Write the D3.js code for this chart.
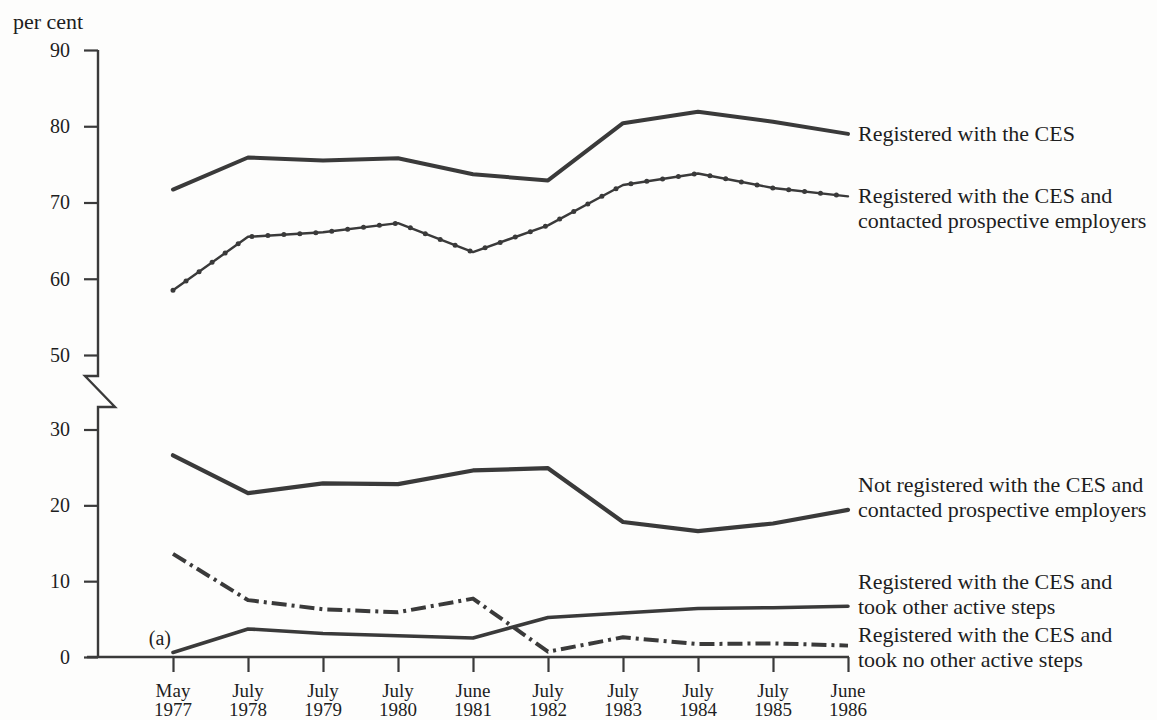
<!DOCTYPE html>
<html>
<head>
<meta charset="utf-8">
<script src="https://cdn.jsdelivr.net/npm/d3@7"></script>
<style>
  html, body { margin: 0; padding: 0; background: #fdfdfc; }
  svg { display: block; font-family: "Liberation Serif", "DejaVu Serif", serif; }
  text { fill: #1e1e1e; }
</style>
</head>
<body>
<div id="chart"></div>
<script>
(() => {
  "use strict";

  // survey dates (x categories)
  const months = ["May","July","July","July","June","July","July","July","July","June"];
  const years  = ["1977","1978","1979","1980","1981","1982","1983","1984","1985","1986"];

  // per cent of unemployed
  const registered       = [71.7, 75.9, 75.5, 75.8, 73.7, 72.9, 80.4, 81.9, 80.6, 79.0];
  const regContacted     = [58.5, 65.5, 66.1, 67.3, 63.5, 67.0, 72.3, 73.8, 71.9, 70.8];
  const notRegContacted  = [26.6, 21.6, 22.9, 22.8, 24.6, 24.9, 17.8, 16.6, 17.6, 19.4];
  const regOtherSteps    = [0.6, 3.7, 3.1, 2.8, 2.5, 5.2, 5.8, 6.4, 6.5, 6.7];
  const regNoOtherSteps  = [13.6, 7.5, 6.3, 5.9, 7.7, 0.7, 2.6, 1.7, 1.8, 1.5];

  const yTicks = [0, 10, 20, 30, 50, 60, 70, 80, 90];

  const seriesLabels = [
    { values: registered, lines: ["Registered with the CES"], dy: 0 },
    { values: regContacted, lines: ["Registered with the CES and", "contacted prospective employers"], dy: 0 },
    { values: notRegContacted, lines: ["Not registered with the CES and", "contacted prospective employers"], dy: -25 },
    { values: regOtherSteps, lines: ["Registered with the CES and", "took other active steps"], dy: -24 },
    { values: regNoOtherSteps, lines: ["Registered with the CES and", "took no other active steps"], dy: -11 }
  ];

  const W = 1157, H = 720;
  const ink = "#3a3a3a";

  const svg = d3.select("#chart").append("svg").attr("width", W).attr("height", H);

  const idx = d3.range(years.length);
  const x = d3.scalePoint().domain(idx).range([173, 848]);
  // broken axis: 30..50 squeezed into the gap
  const y = d3.scaleLinear().domain([0, 30, 50, 90]).range([657, 429.5, 355, 50]);
  const axisX = 98;

  // y axis ticks
  const yAxisG = svg.append("g").attr("transform", `translate(${axisX},0)`)
    .call(d3.axisLeft(y).tickValues(yTicks).tickSize(14).tickPadding(14).tickFormat(d3.format("d")));
  yAxisG.select(".domain").remove();
  yAxisG.selectAll("line").attr("stroke", ink).attr("stroke-width", 2.2);
  yAxisG.selectAll("text").style("font-size", "20px").attr("fill", "#1e1e1e")
    .style("font-family", "Liberation Serif, serif");

  // axis line with the break symbol
  const brk = [[axisX, y(90)], [axisX, 376], [85, 376], [115, 407], [axisX, 407], [axisX, y(0)]];
  svg.append("path").attr("d", d3.line()(brk))
    .attr("fill", "none").attr("stroke", ink).attr("stroke-width", 2.4).attr("stroke-linejoin", "miter");

  // x axis
  const xAxisG = svg.append("g").attr("transform", `translate(0,${y(0)})`)
    .call(d3.axisBottom(x).tickSize(15).tickFormat(""));
  xAxisG.select(".domain").remove();
  xAxisG.selectAll("line").attr("stroke", ink).attr("stroke-width", 2.2);
  svg.append("line").attr("x1", 87).attr("x2", x(idx[idx.length - 1]) + 1)
    .attr("y1", y(0)).attr("y2", y(0)).attr("stroke", ink).attr("stroke-width", 2.4);

  const xl = svg.append("g").selectAll("text").data(idx).join("text")
    .attr("text-anchor", "middle").style("font-size", "19px");
  xl.append("tspan").attr("x", d => x(d)).attr("y", 697).text(d => months[d]);
  xl.append("tspan").attr("x", d => x(d)).attr("y", 716).text(d => years[d]);

  svg.append("text").attr("x", 13).attr("y", 29).style("font-size", "22px").text("per cent");
  svg.append("text").attr("x", x(0) - 2).attr("y", 645).attr("text-anchor", "end")
    .style("font-size", "20px").text("(a)");

  const line = d3.line().x((d, i) => x(i)).y(d => y(d));

  const drawLine = (vals, width, dash) => svg.append("path").datum(vals)
    .attr("d", line).attr("fill", "none").attr("stroke", ink)
    .attr("stroke-width", width).attr("stroke-linejoin", "round")
    .attr("stroke-linecap", dash ? "butt" : "round")
    .attr("stroke-dasharray", dash || null);

  drawLine(registered, 4);
  drawLine(regContacted, 2.4);
  // small beads along the contacted line
  svg.append("path").datum(regContacted).attr("d", line).attr("fill", "none")
    .attr("stroke", ink).attr("stroke-width", 5).attr("stroke-linecap", "round")
    .attr("stroke-dasharray", "0,16");
  drawLine(notRegContacted, 4.2);
  drawLine(regOtherSteps, 3.6);
  drawLine(regNoOtherSteps, 4, "15,5,3,5");

  // right-hand labels
  const last = years.length - 1;
  seriesLabels.forEach(s => {
    const yEnd = y(s.values[last]) + 7 + s.dy;
    const t = svg.append("text").style("font-size", "22px");
    s.lines.forEach((ln, j) => {
      t.append("tspan").attr("x", 858).attr("y", yEnd + j * 25).text(ln);
    });
  });
})();
</script>
</body>
</html>
